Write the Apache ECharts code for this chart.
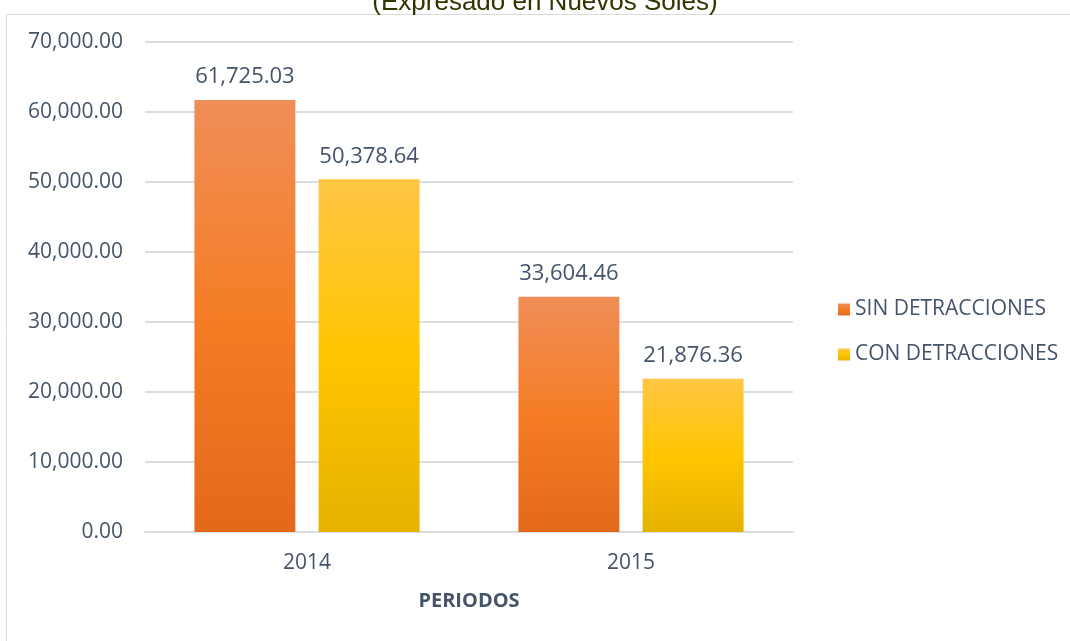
<!DOCTYPE html>
<html><head><meta charset="utf-8">
<script src="https://cdn.jsdelivr.net/npm/echarts@6/dist/echarts.min.js"></script>
<style>html,body{margin:0;padding:0;background:#fff}#c{width:1070px;height:641px}</style>
</head><body><div id="c"></div>
<script>
const categories = ['2014', '2015'];
const sinDetracciones = [61725.03, 33604.46];
const conDetracciones = [50378.64, 21876.36];
const seriesNames = ['SIN DETRACCIONES', 'CON DETRACCIONES'];
const subtitle = '(Expresado en Nuevos Soles)';
const xAxisName = 'PERIODOS';

const txt = '#44546a';
const font = '"Open Sans", "Noto Sans", sans-serif';
function grad(a, b, c) {
  return new echarts.graphic.LinearGradient(0, 0, 0, 1, [
    {offset: 0, color: a}, {offset: 0.5, color: b}, {offset: 1, color: c}]);
}
const fmt = v => v.toLocaleString('en-US', {minimumFractionDigits: 2, maximumFractionDigits: 2});
const chart = echarts.init(document.getElementById('c'));
chart.setOption({
  animation: false,
  graphic: [
    {type: 'rect', left: 4, top: 12, shape: {width: 1080, height: 640}, style: {fill: 'none', stroke: '#d9d9d9', lineWidth: 1}, z: -1},
    {type: 'text', x: 545, y: -10, style: {text: subtitle, fill: '#333300', font: '26px "Liberation Sans", Arial, sans-serif', textAlign: 'center'}}
  ],
  grid: {left: 145, right: 277, top: 42, bottom: 109},
  legend: {
    orient: 'vertical', left: 833, top: 294, itemGap: 24, itemWidth: 12, itemHeight: 12,
    icon: 'rect',
    textStyle: {color: txt, fontSize: 21, fontFamily: font},
    data: seriesNames
  },
  xAxis: {
    type: 'category', data: categories,
    name: xAxisName, nameLocation: 'middle', nameGap: 59,
    nameTextStyle: {color: txt, fontSize: 20, fontWeight: 'bold', fontFamily: font},
    axisTick: {show: false},
    axisLine: {lineStyle: {color: '#d9dde4', width: 2}},
    axisLabel: {color: txt, fontSize: 21, fontFamily: font, margin: 21}
  },
  yAxis: {
    type: 'value', min: 0, max: 70000, interval: 10000,
    axisLabel: {color: txt, fontSize: 21, fontFamily: font, margin: 22, formatter: v => fmt(v)},
    splitLine: {lineStyle: {color: '#d9dde4', width: 2}},
    axisLine: {show: false}, axisTick: {show: false}
  },
  series: [
    {name: seriesNames[0], type: 'bar', data: sinDetracciones, barGap: '23%', barCategoryGap: '30.5%',
     itemStyle: {color: grad('#f08e58', '#f47d25', '#e3691a')},
     label: {show: true, position: 'top', distance: 12, color: txt, fontSize: 22, fontFamily: font, formatter: p => fmt(p.value)}},
    {name: seriesNames[1], type: 'bar', data: conDetracciones,
     itemStyle: {color: grad('#ffc645', '#ffc500', '#e5b200')},
     label: {show: true, position: 'top', distance: 12, color: txt, fontSize: 22, fontFamily: font, formatter: p => fmt(p.value)}}
  ]
});
</script></body></html>
